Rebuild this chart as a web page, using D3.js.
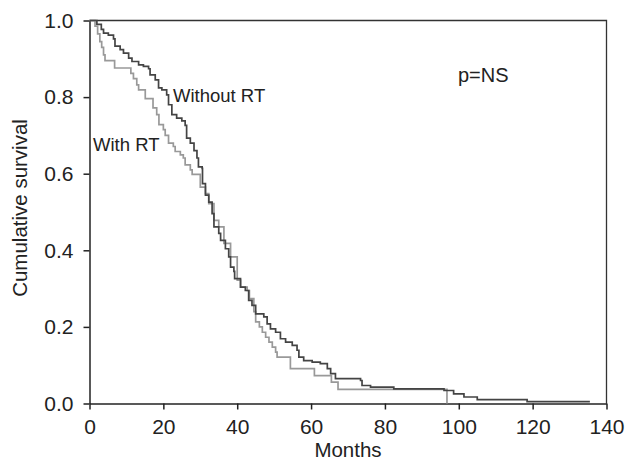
<!DOCTYPE html>
<html>
<head>
<meta charset="utf-8">
<script src="https://cdn.jsdelivr.net/npm/d3@7"></script>
<style>
  body { margin: 0; background: #fff; }
  text { font-family: "Liberation Sans", Arial, sans-serif; fill: #222; }
</style>
</head>
<body>
<script>
// survival curves (months, cumulative survival after the step)
var withoutMonths = [0, 2.0, 3.2, 3.8, 5.1, 6.5, 6.9, 8.3, 9.2, 10.6, 11.5, 13.3, 14.6, 16.0, 16.4, 17.8, 18.7, 19.6, 20.9, 21.4,
  22.3, 23.6, 25.0, 25.9, 26.3, 27.3, 28.3, 29.1, 29.5, 30.5, 30.6, 31.4, 32.3, 33.2, 33.7, 35.0, 35.5, 36.8, 37.7, 38.2,
  39.1, 39.3, 40.9, 42.2, 43.1, 44.0, 45.0, 47.2, 48.1, 49.0, 50.4, 51.7, 53.1, 54.9, 56.2, 56.7, 58.0, 60.3, 62.5, 64.4,
  65.3, 66.6, 73.4, 73.8, 76.1, 82.4, 96.0, 98.6, 101.4, 105.0, 118.5, 135.5];
var withoutSurv = [1.0, 0.99, 0.977, 0.967, 0.962, 0.952, 0.933, 0.924, 0.915, 0.902, 0.893, 0.884, 0.880, 0.874, 0.858, 0.845, 0.824, 0.819, 0.806, 0.780,
  0.754, 0.745, 0.738, 0.726, 0.693, 0.680, 0.660, 0.641, 0.618, 0.614, 0.574, 0.544, 0.526, 0.496, 0.461, 0.444, 0.426, 0.404, 0.383, 0.356,
  0.345, 0.326, 0.304, 0.295, 0.269, 0.256, 0.234, 0.226, 0.208, 0.195, 0.186, 0.169, 0.160, 0.152, 0.139, 0.121, 0.112, 0.108, 0.104, 0.091,
  0.078, 0.065, 0.060, 0.047, 0.043, 0.038, 0.034, 0.025, 0.017, 0.010, 0.005, 0.005];

var withMonths = [0, 1.5, 2.2, 2.8, 3.3, 3.8, 4.2, 6.8, 11.2, 11.9, 12.8, 13.3, 15.1, 17.2, 18.2, 18.8, 20.0, 20.5, 21.4, 22.7,
  23.2, 24.6, 25.4, 25.9, 27.3, 27.8, 30.0, 31.4, 32.3, 33.7, 35.0, 36.4, 38.2, 40.0, 40.9, 42.7, 43.3, 44.5, 45.0, 46.0,
  46.8, 47.7, 48.6, 49.5, 50.4, 50.8, 54.4, 60.9, 65.5, 67.3, 96.8];
var withSurv = [1.0, 0.985, 0.965, 0.945, 0.93, 0.91, 0.895, 0.876, 0.862, 0.848, 0.832, 0.819, 0.796, 0.772, 0.754, 0.728, 0.715, 0.700, 0.680, 0.671,
  0.658, 0.649, 0.641, 0.623, 0.610, 0.598, 0.565, 0.548, 0.522, 0.478, 0.461, 0.418, 0.383, 0.322, 0.304, 0.295, 0.274, 0.240, 0.213, 0.200,
  0.186, 0.173, 0.160, 0.147, 0.134, 0.121, 0.091, 0.073, 0.056, 0.037, 0];

var xTicks = [0, 20, 40, 60, 80, 100, 120, 140];
var yTicks = [0, 0.2, 0.4, 0.6, 0.8, 1.0];

var width = 625, height = 468;
var svg = d3.select("body").append("svg")
    .attr("width", width)
    .attr("height", height);

var x = d3.scaleLinear().domain([0, 140]).range([89.5, 606.5]);
var y = d3.scaleLinear().domain([0, 1]).range([403.5, 20.5]);

// frame (top and right)
svg.append("path")
    .attr("d", "M" + x(0) + "," + y(1) + "H" + x(140) + "V" + y(0))
    .attr("fill", "none")
    .attr("stroke", "#333")
    .attr("stroke-width", 1.3);

var xAxis = svg.append("g")
    .attr("transform", "translate(0," + y(0) + ")")
    .call(d3.axisBottom(x).tickValues(xTicks).tickSize(6).tickSizeOuter(0).tickPadding(10));
var yAxis = svg.append("g")
    .attr("transform", "translate(" + x(0) + ",0)")
    .call(d3.axisLeft(y).tickValues(yTicks).tickFormat(d3.format(".1f")).tickSize(6).tickSizeOuter(0).tickPadding(10));

[xAxis, yAxis].forEach(function(g) {
  g.selectAll("path, line").attr("stroke", "#222").attr("stroke-width", 1.5);
  g.selectAll("text").style("font-size", "21px").style("font-family", "'Liberation Sans', Arial, sans-serif").attr("fill", "#222");
});

var line = d3.line()
    .x(function(d) { return x(d[0]); })
    .y(function(d) { return y(d[1]); })
    .curve(d3.curveStepAfter);

var withData = withMonths.map(function(m, i) { return [m, withSurv[i]]; });
var withoutData = withoutMonths.map(function(m, i) { return [m, withoutSurv[i]]; });

svg.append("path")
    .attr("d", line(withData))
    .attr("fill", "none")
    .attr("stroke", "#999")
    .attr("stroke-width", 1.7);

svg.append("path")
    .attr("d", line(withoutData))
    .attr("fill", "none")
    .attr("stroke", "#444")
    .attr("stroke-width", 1.7);

// labels
svg.append("text").attr("x", 173).attr("y", 102).style("font-size", "18.5px").text("Without RT");
svg.append("text").attr("x", 93).attr("y", 151).style("font-size", "18.5px").text("With RT");
svg.append("text").attr("x", 458).attr("y", 82).style("font-size", "20px").text("p=NS");

svg.append("text")
    .attr("x", (x(0) + x(140)) / 2)
    .attr("y", 456.5)
    .attr("text-anchor", "middle")
    .style("font-size", "20.5px")
    .text("Months");

svg.append("text")
    .attr("transform", "translate(26.5," + 208 + ") rotate(-90)")
    .attr("text-anchor", "middle")
    .style("font-size", "20.5px")
    .text("Cumulative survival");
</script>
</body>
</html>
